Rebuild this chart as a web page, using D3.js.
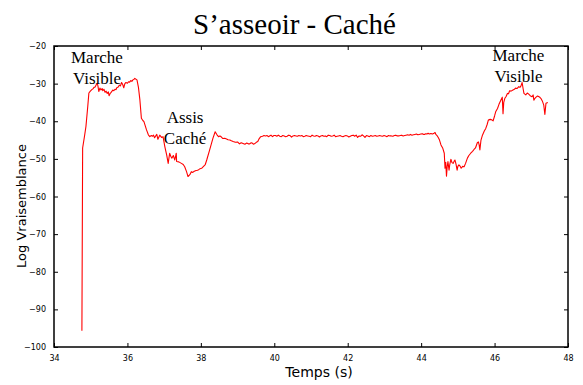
<!DOCTYPE html>
<html>
<head>
<meta charset="utf-8">
<script src="https://cdn.jsdelivr.net/npm/d3@7"></script>
<style>
  html, body { margin: 0; padding: 0; background: #fff; }
  svg { display: block; }
</style>
</head>
<body>
<script>
// Log-likelihood of the "S'asseoir - Caché" model over time
const times = [
  34.76, 34.78, 34.83, 34.87, 34.92, 34.95, 34.99, 35.03, 35.06, 35.09, 35.12, 35.15, 35.18, 35.20,
  35.22, 35.25, 35.28, 35.31, 35.33, 35.36, 35.39, 35.42, 35.45, 35.48, 35.50, 35.53, 35.55, 35.58,
  35.60, 35.63, 35.66, 35.69, 35.71, 35.75, 35.78, 35.81, 35.84, 35.87, 35.90, 35.93, 35.96, 36.00,
  36.03, 36.06, 36.09, 36.12, 36.15, 36.18, 36.20, 36.23, 36.26, 36.30, 36.34, 36.38, 36.42, 36.45,
  36.52, 36.57, 36.61, 36.65, 36.68, 36.71, 36.74, 36.77, 36.80, 36.83, 36.88, 36.93, 36.97, 37.02,
  37.07, 37.11, 37.15, 37.18, 37.21, 37.25, 37.29, 37.33, 37.34, 37.40, 37.47, 37.52, 37.56, 37.61,
  37.65, 37.70, 37.74, 37.78, 37.82, 37.87, 37.91, 37.95, 37.98, 38.02, 38.06, 38.12, 38.16, 38.24,
  38.33, 38.39, 38.44, 38.48, 38.52, 38.56, 38.60, 38.65, 38.70, 38.74, 38.79, 38.83, 38.88, 38.94,
  39.00, 39.05, 39.10, 39.15, 39.20, 39.25, 39.29, 39.33, 39.37, 39.40, 39.43, 39.46, 39.51, 39.55,
  39.59, 39.63, 39.68, 39.72, 39.76, 39.80, 39.84, 39.87, 39.91, 39.95, 39.99, 40.03, 40.07, 40.11,
  40.15, 40.19, 40.23, 40.27, 40.31, 40.35, 40.39, 40.43, 40.47, 40.51, 40.55, 40.59, 40.63, 40.67,
  40.71, 40.75, 40.79, 40.83, 40.87, 40.91, 40.95, 40.99, 41.03, 41.07, 41.11, 41.15, 41.19, 41.23,
  41.27, 41.31, 41.35, 41.39, 41.43, 41.47, 41.51, 41.55, 41.59, 41.63, 41.67, 41.71, 41.75, 41.79,
  41.83, 41.87, 41.91, 41.95, 41.99, 42.03, 42.07, 42.11, 42.15, 42.19, 42.23, 42.27, 42.31, 42.35,
  42.39, 42.43, 42.47, 42.51, 42.55, 42.59, 42.63, 42.67, 42.71, 42.75, 42.79, 42.83, 42.87, 42.91,
  42.95, 42.99, 43.03, 43.07, 43.11, 43.15, 43.19, 43.23, 43.27, 43.31, 43.35, 43.39, 43.43, 43.47,
  43.51, 43.55, 43.59, 43.63, 43.67, 43.71, 43.75, 43.79, 43.83, 43.87, 43.91, 43.95, 43.99, 44.03,
  44.07, 44.10, 44.13, 44.16, 44.19, 44.22, 44.25, 44.28, 44.31, 44.35, 44.38, 44.40, 44.44, 44.47,
  44.50, 44.54, 44.59, 44.63, 44.65, 44.67, 44.69, 44.71, 44.73, 44.76, 44.78, 44.81, 44.84, 44.87,
  44.90, 44.92, 44.95, 44.98, 45.00, 45.03, 45.06, 45.09, 45.13, 45.17, 45.21, 45.26, 45.30, 45.35,
  45.40, 45.44, 45.48, 45.53, 45.56, 45.58, 45.60, 45.63, 45.67, 45.72, 45.76, 45.80, 45.83, 45.88,
  45.92, 45.96, 46.00, 46.03, 46.08, 46.12, 46.17, 46.21, 46.23, 46.25, 46.28, 46.31, 46.35, 46.38,
  46.41, 46.45, 46.50, 46.54, 46.57, 46.61, 46.66, 46.69, 46.72, 46.75, 46.78, 46.80, 46.85, 46.89,
  46.93, 46.97, 47.02, 47.05, 47.07, 47.10, 47.13, 47.17, 47.21, 47.24, 47.26, 47.30, 47.34, 47.37,
  47.40, 47.45
];
const logLik = [
  -95.7, -47.1, -44.0, -41.4, -36.0, -32.5, -32.0, -31.6, -31.4, -31.0, -30.9, -30.3, -29.9, -30.8,
  -32.1, -31.2, -31.7, -31.3, -31.9, -31.5, -32.3, -32.0, -32.6, -32.2, -33.2, -32.6, -32.4, -32.0,
  -31.7, -31.9, -31.5, -31.6, -31.1, -30.9, -30.4, -30.6, -29.7, -30.2, -31.1, -30.0, -29.7, -29.9,
  -29.5, -29.6, -29.2, -29.4, -29.0, -28.8, -28.6, -28.8, -29.0, -31.0, -34.4, -39.2, -39.8, -40.1,
  -42.3, -43.6, -44.1, -43.8, -44.0, -43.7, -44.4, -43.9, -43.5, -44.8, -43.7, -44.3, -44.1, -46.8,
  -49.0, -51.2, -48.5, -49.3, -49.8, -49.1, -50.3, -48.5, -50.7, -50.8, -51.2, -51.5, -52.1, -53.4,
  -54.7, -54.2, -53.4, -53.6, -53.3, -53.1, -53.0, -52.8, -52.6, -52.5, -52.1, -51.5, -50.3, -47.6,
  -44.5, -42.8, -43.6, -44.1, -43.9, -44.2, -44.6, -44.5, -44.7, -44.9, -45.0, -45.2, -45.4, -45.6,
  -45.5, -46.0, -45.7, -45.9, -46.1, -45.8, -46.0, -46.0, -45.7, -45.8, -46.1, -46.0, -45.6, -45.4,
  -44.6, -44.1, -44.0, -43.8, -43.9, -43.8, -44.1, -43.9, -43.7, -44.1, -43.8, -43.8, -44.0, -43.7,
  -44.0, -44.1, -43.8, -43.9, -44.1, -44.0, -43.7, -43.8, -44.2, -43.9, -43.8, -43.9, -44.0, -43.8,
  -43.9, -43.8, -44.1, -44.0, -43.8, -43.9, -44.0, -44.1, -43.7, -43.9, -44.0, -43.8, -43.9, -44.2,
  -43.9, -43.8, -44.0, -43.9, -44.1, -43.7, -43.8, -44.0, -43.9, -43.7, -44.1, -44.0, -43.9, -43.8,
  -44.0, -44.1, -43.9, -43.8, -43.9, -44.2, -44.0, -43.8, -43.7, -44.0, -43.7, -44.3, -43.9, -44.0,
  -43.6, -43.9, -44.3, -43.8, -43.9, -44.1, -43.8, -44.0, -43.9, -43.8, -44.0, -43.9, -43.8, -43.9,
  -44.0, -43.8, -43.9, -44.1, -43.8, -43.9, -43.9, -44.0, -43.8, -43.7, -43.9, -43.9, -43.8, -43.7,
  -43.9, -43.8, -43.7, -43.6, -43.7, -43.5, -43.7, -43.6, -43.5, -43.4, -43.6, -43.5, -43.4, -43.3,
  -43.5, -43.5, -43.3, -43.4, -43.2, -43.4, -43.3, -43.3, -43.4, -43.2, -43.0, -43.5, -43.9, -44.4,
  -45.0, -46.3, -47.2, -48.5, -52.5, -50.9, -54.6, -52.0, -50.7, -53.0, -51.5, -50.1, -51.0, -51.2,
  -50.6, -50.3, -51.4, -53.0, -52.0, -51.6, -51.9, -52.5, -52.0, -52.1, -51.2, -49.8, -49.1, -48.5,
  -48.0, -47.5, -47.1, -45.7, -45.5, -46.3, -47.6, -45.0, -43.7, -42.6, -41.9, -40.8, -39.7, -39.5,
  -39.6, -39.9, -38.6, -37.5, -36.6, -35.5, -34.4, -33.6, -38.0, -35.0, -33.9, -33.5, -32.6, -32.7,
  -31.9, -32.0, -31.7, -31.5, -31.2, -31.3, -30.8, -31.0, -30.6, -29.7, -31.5, -32.6, -33.0, -32.5,
  -32.8, -33.2, -33.5, -33.0, -34.4, -33.9, -33.6, -33.3, -33.5, -33.7, -33.9, -34.6, -35.7, -38.2,
  -35.2, -35.0
];
const xTicks = [34, 36, 38, 40, 42, 44, 46, 48];
const yTicks = [-100, -90, -80, -70, -60, -50, -40, -30, -20];
const annotations = [
  { t: 35.17, v: -24.4, lines: ["Marche", "Visible"] },
  { t: 37.57, v: -40.5, lines: ["Assis", "Caché"] },
  { t: 46.65, v: -23.9, lines: ["Marche", "Visible"] }
];

const W = 583, H = 385;
const margin = { left: 54, right: 15, top: 46, bottom: 38 };
const iw = W - margin.left - margin.right;
const ih = H - margin.top - margin.bottom;

const svg = d3.select("body").append("svg").attr("width", W).attr("height", H);

const x = d3.scaleLinear().domain([34, 48]).range([margin.left, margin.left + iw]);
const y = d3.scaleLinear().domain([-100, -20]).range([margin.top + ih, margin.top]);

const serif = "'Liberation Serif', 'Times New Roman', serif";
const sans = "'DejaVu Sans', sans-serif";

// Figure title
svg.append("text")
  .attr("x", W / 2 + 3).attr("y", 34)
  .attr("text-anchor", "middle")
  .style("font-family", serif)
  .style("font-size", "29px")
  .text("S\u2019asseoir - Caché");

// Data line
const pts = times.map((t, i) => [t, logLik[i]]);
svg.append("path")
  .datum(pts)
  .attr("fill", "none")
  .attr("stroke", "#ff0000")
  .attr("stroke-width", 1.1)
  .attr("stroke-linejoin", "round")
  .attr("d", d3.line().x(d => x(d[0])).y(d => y(d[1])));

// Axes: ticks pointing inwards on all four sides
function styleAxis(g) {
  g.select(".domain").remove();
  g.selectAll(".tick line").attr("stroke", "#000").attr("stroke-width", 1);
  g.selectAll(".tick text").style("font-family", sans).style("font-size", "8px").attr("fill", "#000");
}
svg.append("g").attr("transform", `translate(0,${margin.top + ih})`)
  .call(d3.axisBottom(x).tickValues(xTicks).tickFormat(d3.format("d")).tickSizeInner(-4).tickPadding(8))
  .call(styleAxis);
svg.append("g").attr("transform", `translate(0,${margin.top})`)
  .call(d3.axisTop(x).tickValues(xTicks).tickFormat("").tickSizeInner(-4))
  .call(styleAxis);
svg.append("g").attr("transform", `translate(${margin.left},0)`)
  .call(d3.axisLeft(y).tickValues(yTicks).tickFormat(d3.format("d")).tickSizeInner(-4).tickPadding(8))
  .call(styleAxis);
svg.append("g").attr("transform", `translate(${margin.left + iw},0)`)
  .call(d3.axisRight(y).tickValues(yTicks).tickFormat("").tickSizeInner(-4))
  .call(styleAxis);

// Frame
svg.append("rect")
  .attr("x", margin.left).attr("y", margin.top)
  .attr("width", iw).attr("height", ih)
  .attr("fill", "none").attr("stroke", "#000").attr("stroke-width", 1.5);

// Axis labels
svg.append("text")
  .attr("x", 319).attr("y", 377)
  .attr("text-anchor", "middle")
  .style("font-family", sans).style("font-size", "14px")
  .text("Temps (s)");
svg.append("text")
  .attr("transform", `translate(26,206) rotate(-90)`)
  .attr("text-anchor", "middle")
  .style("font-family", sans).style("font-size", "13px")
  .text("Log Vraisemblance");

// Region annotations
annotations.forEach(a => {
  const txt = svg.append("text")
    .attr("text-anchor", "middle")
    .style("font-family", serif)
    .style("font-size", "17px");
  a.lines.forEach((s, i) => {
    txt.append("tspan").attr("x", x(a.t)).attr("y", y(a.v) + i * 21).text(s);
  });
});
</script>
</body>
</html>
